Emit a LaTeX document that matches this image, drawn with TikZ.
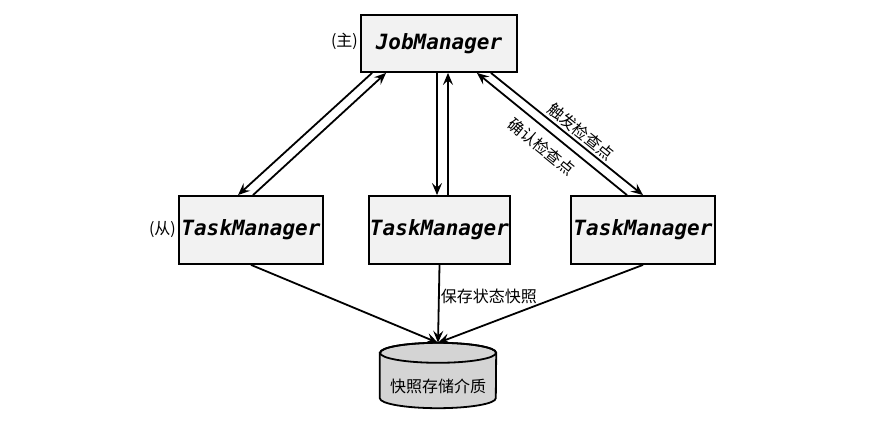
\documentclass[tikz,border=0pt]{standalone}
\usepackage{fontspec}
\setmonofont{DejaVu Sans Mono}
\newfontfamily\cjk{Noto Sans CJK SC}
\usetikzlibrary{arrows.meta}
\definecolor{boxfill}{HTML}{F2F2F2}
\definecolor{dbfill}{HTML}{D4D4D4}
\begin{document}
\begin{tikzpicture}[x=1pt,y=1pt,
  mgr/.style={draw=black, line width=1.8pt, fill=boxfill, inner sep=0pt,
    font=\fontsize{21}{24}\selectfont\ttfamily\bfseries\itshape},
  conn/.style={line width=1.8pt, -{Stealth[length=12pt,width=10pt,inset=4.5pt]}},
  lbl/.style={font=\fontsize{16}{18}\selectfont\cjk, inner sep=1pt}]
\useasboundingbox (0,0) rectangle (891,442);
\node[mgr, minimum width=156pt, minimum height=57pt] (jm) at (439,398.5) {JobManager};
\node[mgr, minimum width=144pt, minimum height=68pt] (tl) at (251,212) {TaskManager};
\node[mgr, minimum width=141pt, minimum height=68pt] (tm) at (439.5,212) {TaskManager};
\node[mgr, minimum width=144pt, minimum height=68pt] (tr) at (643,212) {TaskManager};
\node[lbl, anchor=east] (zhu) at ([xshift=-1pt,yshift=2pt]jm.west) {(主)};
\node[lbl, anchor=east] (cong) at ([xshift=-1pt]tl.west) {(从)};
% storage cylinder
\node[minimum width=116pt, minimum height=65pt, inner sep=0pt] (db) at (438,66.5) {};
\filldraw[fill=dbfill, draw=black, line width=1.8pt]
  (db.north west) ++(0,-10) -- ([yshift=10pt]db.south west)
  arc[start angle=180, end angle=360, x radius=58pt, y radius=10pt]
  -- ([yshift=-10pt]db.north east)
  arc[start angle=0, end angle=180, x radius=58pt, y radius=10pt] -- cycle;
\draw[line width=1.8pt] ([yshift=-10pt]db.north) ellipse[x radius=58pt, y radius=10pt];
\node[lbl] (dbl) at ([yshift=-11pt]db.center) {快照存储介质};
% connectors JobManager <-> left
\draw[conn] ([xshift=12pt]jm.south west) -- ([xshift=-13pt]tl.north);
\draw[conn] ([xshift=2pt]tl.north) -- ([xshift=26pt]jm.south west);
% middle
\draw[conn] ([xshift=-2pt]jm.south) -- ([xshift=-2pt]jm.south |- tm.north);
\draw[conn] ([xshift=8.5pt]tm.north) -- ([xshift=8.5pt]tm.north |- jm.south);
% right
\draw[conn] ([xshift=-27pt]jm.south east) -- node[lbl, pos=0.55, sloped, above=1pt] {触发检查点} (tr.north);
\draw[conn] ([xshift=-16pt]tr.north) -- node[lbl, pos=0.5, sloped, below=7pt] {确认检查点} ([xshift=-41pt]jm.south east);
% to storage
\draw[conn] (tl.south) -- (db.north);
\draw[conn] (tm.south) -- node[lbl, pos=0.4, right=0pt] {保存状态快照} (db.north);
\draw[conn] (tr.south) -- (db.north);
\end{tikzpicture}
\end{document}
